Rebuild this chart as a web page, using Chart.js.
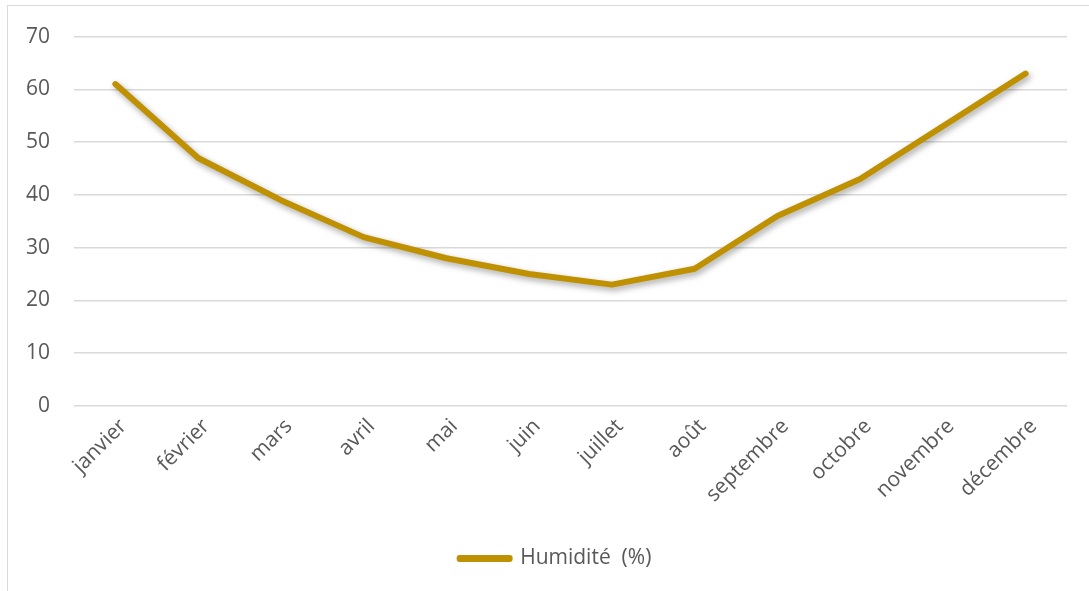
<!DOCTYPE html>
<html>
<head>
<meta charset="utf-8">
<script src="https://cdn.jsdelivr.net/npm/chart.js@4.4.0/dist/chart.umd.min.js"></script>
<style>
  html, body { margin: 0; padding: 0; background: #fff; overflow: hidden; }
  #wrap { position: relative; width: 1089px; height: 591px; }
  #frame { position: absolute; left: 7px; top: 5px; width: 1100px; height: 600px;
           border: 1.5px solid #d9d9d9; box-sizing: border-box; }
  #humid { position: absolute; left: 0; top: 0; }
</style>
</head>
<body>
<div id="wrap">
  <div id="frame"></div>
  <canvas id="humid" width="1089" height="591"></canvas>
</div>
<script>
/* humidité moyenne par mois */
const mois = ['janvier', 'février', 'mars', 'avril', 'mai', 'juin',
              'juillet', 'août', 'septembre', 'octobre', 'novembre', 'décembre'];
const humidite = [61, 47, 39, 32, 28, 25, 23, 26, 36, 43, 53, 63];
const yTicks = [0, 10, 20, 30, 40, 50, 60, 70];

const txtColor = '#595959';
const gridColor = '#d9d9d9';

// soft drop shadow under the line
const lineShadow = {
    id: 'lineShadow',
    beforeDatasetsDraw(chart) {
        const ctx = chart.ctx;
        ctx.save();
        ctx.shadowColor = 'rgba(0,0,0,0.35)';
        ctx.shadowBlur = 6;
        ctx.shadowOffsetX = 2;
        ctx.shadowOffsetY = 3;
    },
    afterDatasetsDraw(chart) {
        chart.ctx.restore();
    }
};

// center the legend on the whole frame, not just the plot width
const legendShift = {
    id: 'legendShift',
    afterLayout(chart) {
        chart.legend.left += 22;
        chart.legend.right += 22;
    }
};

Chart.defaults.font.family = "'Open Sans', sans-serif";
Chart.defaults.font.size = 21;
Chart.defaults.color = txtColor;

const ctx_humid = document.getElementById('humid').getContext('2d');
const humidChart = new Chart(ctx_humid, {
    type: 'line',
    data: {
        labels: mois,
        datasets: [{
            label: 'Humidité  (%)',
            data: humidite,
            borderColor: '#bf9000',
            backgroundColor: '#bf9000',
            borderWidth: 6,
            borderCapStyle: 'round',
            borderJoinStyle: 'round',
            pointRadius: 0,
            tension: 0
        }]
    },
    options: {
        responsive: false,
        animation: false,
        layout: {
            padding: { left: 0, right: 22, top: 34, bottom: 12 }
        },
        scales: {
            x: {
                offset: true,
                grid: { display: false },
                border: { display: false },
                ticks: { maxRotation: 45, minRotation: 45, padding: 0, labelOffset: 8 },
                afterFit(scale) { scale.height = 132; }
            },
            y: {
                min: 0,
                max: 70,
                afterBuildTicks(scale) {
                    scale.ticks = yTicks.map(v => ({ value: v }));
                },
                grid: { color: gridColor, lineWidth: 1.5, drawTicks: false },
                border: { display: false },
                ticks: { padding: 24 },
                afterFit(scale) { scale.width = 74; }
            }
        },
        plugins: {
            legend: {
                position: 'bottom',
                labels: {
                    boxWidth: 50,
                    boxHeight: 1,
                    padding: 10,
                    color: txtColor
                }
            },
            tooltip: { enabled: false }
        }
    },
    plugins: [lineShadow, legendShift]
});
</script>
</body>
</html>
